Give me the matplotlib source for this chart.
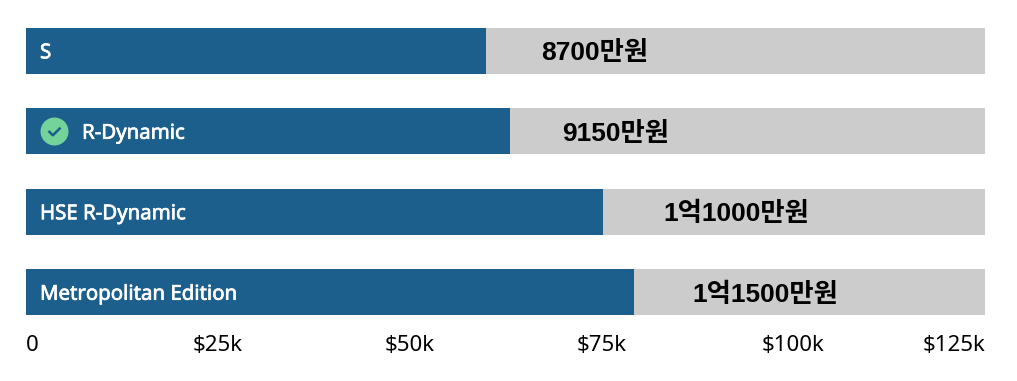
import matplotlib
matplotlib.use("Agg")
import matplotlib.pyplot as plt
import matplotlib.patheffects as pe
from matplotlib.path import Path
from matplotlib.transforms import offset_copy

# data
trims = ["S", "R-Dynamic", "HSE R-Dynamic", "Metropolitan Edition"]
prices = [60.0, 63.1, 75.2, 79.25]  # $k
price_labels = ["8700만원", "9150만원", "1억1000만원", "1억1500만원"]
max_price = 125
tick_values = [0, 25, 50, 75, 100, 125]
tick_labels = ["0", "$25k", "$50k", "$75k", "$100k", "$125k"]
selected = "R-Dynamic"

# label offset from the end of each bar, in px
label_offsets = [55, 52, 60, 58]

W, H = 1017, 381
BLUE = "#1c5f8c"
GREY = "#cccccc"
GREEN = "#74d29b"
LATIN = ["Noto Sans", "DejaVu Sans"]
KR = ["Liberation Sans", "Noto Sans CJK KR"]
PX = 0.72  # points per pixel at dpi 100
BAR_H = 0.566

fig = plt.figure(figsize=(W / 100, H / 100), dpi=100)
# axes spans the bar area, top of first bar to bottom of last
ax = fig.add_axes([26 / W, 1 - 315 / H, 959 / W, (315 - 28) / H])

y = list(range(len(trims)))
ax.barh(y, [max_price] * len(trims), height=BAR_H, color=GREY, linewidth=0)
ax.barh(y, prices, height=BAR_H, color=BLUE, linewidth=0)
ax.set_xlim(0, max_price)
ax.set_ylim(len(trims) - 1 + BAR_H / 2, -BAR_H / 2)

check = Path([(-5.5, 0.5), (-1.5, -3.5), (5.5, 3.5)], [Path.MOVETO, Path.LINETO, Path.LINETO])
badge_tr = offset_copy(ax.transData, fig=fig, x=28, y=0, units="dots")

# the original font is a bit heavier than Noto Sans regular
heavier = [pe.withStroke(linewidth=0.5, foreground="white")]

for i, name in enumerate(trims):
    text_x = 14
    if name == selected:
        ax.plot([0], [i], marker="o", ms=28 * PX, mfc=GREEN, mec="none",
                transform=badge_tr, clip_on=False)
        ax.plot([0], [i], marker=check, ms=12 * PX, mfc="none", mec=BLUE, mew=1.8,
                transform=badge_tr, clip_on=False)
        text_x = 56
    ax.annotate(name, (0, i), xytext=(text_x * PX, 0), textcoords="offset points",
                color="white", fontsize=14.7, family=LATIN,
                va="center_baseline", ha="left", path_effects=heavier)

for i, (p, lab, off) in enumerate(zip(prices, price_labels, label_offsets)):
    ax.annotate(lab, (p, i), xytext=(off * PX, 0), textcoords="offset points",
                fontsize=19, fontweight="bold", family=KR, color="black",
                va="center_baseline", ha="left")

ax.set_yticks([])
ax.set_xticks(tick_values)
ax.set_xticklabels(tick_labels, family=LATIN, fontsize=16, color="black")
ax.tick_params(axis="x", length=0, pad=14.5)
labs = ax.get_xticklabels()
labs[0].set_ha("left")
labs[-1].set_ha("right")
for s in ax.spines.values():
    s.set_visible(False)

fig.savefig("out.png", dpi=100, facecolor="white")
